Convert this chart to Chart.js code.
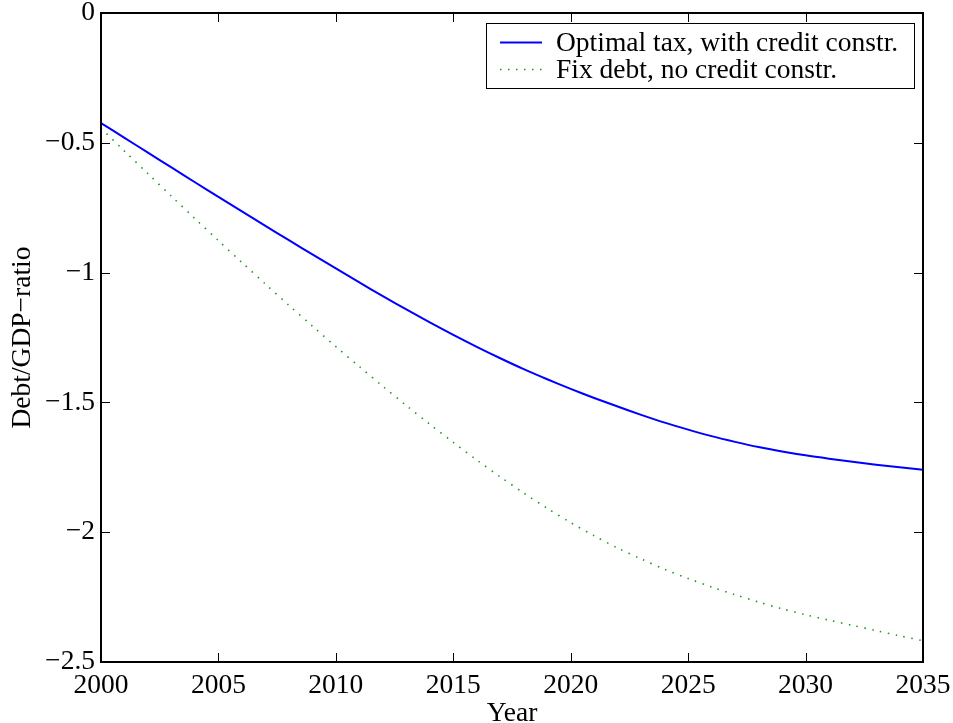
<!DOCTYPE html>
<html>
<head>
<meta charset="utf-8">
<script src="https://cdn.jsdelivr.net/npm/chart.js@4.4.1/dist/chart.umd.min.js"></script>
<style>
  html, body { margin: 0; padding: 0; background: #fff; }
  #wrap { width: 953px; height: 723px; }
</style>
</head>
<body>
<div id="wrap"><canvas id="c" width="953" height="723"></canvas></div>
<script>
// Simulation horizon (years)
const years = [2000, 2001, 2002, 2003, 2004, 2005, 2006, 2007, 2008, 2009,
               2010, 2011, 2012, 2013, 2014, 2015, 2016, 2017, 2018, 2019,
               2020, 2021, 2022, 2023, 2024, 2025, 2026, 2027, 2028, 2029,
               2030, 2031, 2032, 2033, 2034, 2035];

// Debt/GDP path under the optimal tax with credit constraints
const optimalTax = [-0.424, -0.481, -0.538, -0.595, -0.652, -0.708, -0.764, -0.820, -0.875, -0.930,
                    -0.984, -1.038, -1.091, -1.142, -1.192, -1.240, -1.286, -1.330, -1.372, -1.411,
                    -1.448, -1.483, -1.516, -1.548, -1.578, -1.605, -1.630, -1.652, -1.672, -1.689,
                    -1.704, -1.717, -1.729, -1.740, -1.750, -1.759];

// Debt/GDP path with fixed debt and no credit constraints
const fixDebt = [-0.444, -0.532, -0.619, -0.706, -0.792, -0.877, -0.961, -1.044, -1.126, -1.206,
                 -1.285, -1.362, -1.438, -1.512, -1.584, -1.654, -1.722, -1.787, -1.849, -1.908,
                 -1.963, -2.014, -2.061, -2.103, -2.143, -2.178, -2.211, -2.241, -2.269, -2.295,
                 -2.318, -2.339, -2.359, -2.379, -2.399, -2.418];

const seriesLabels = ['Optimal tax, with credit constr.', 'Fix debt, no credit constr.'];
const xTicks = [2000, 2005, 2010, 2015, 2020, 2025, 2030, 2035];
const yTicks = [0, -0.5, -1, -1.5, -2, -2.5];

const FONT = '"Liberation Serif", "Times New Roman", serif';
const FSIZE = 27.5;

// Minus sign as typeset (U+2212)
const fmt = v => (v < 0 ? '\u2212' + String(Math.abs(v)) : String(v));

// Closed frame with inward tick marks on all four sides
const frameTicks = {
  id: 'frameTicks',
  afterDatasetsDraw(chart) {
    const { ctx, chartArea: a, scales: { x, y } } = chart;
    const tl = 9;
    ctx.save();
    ctx.strokeStyle = '#000';
    ctx.lineWidth = 1;
    ctx.beginPath();
    xTicks.forEach(v => {
      const px = Math.round(x.getPixelForValue(v)) + 0.5;
      ctx.moveTo(px, a.bottom); ctx.lineTo(px, a.bottom - tl);
      ctx.moveTo(px, a.top); ctx.lineTo(px, a.top + tl);
    });
    yTicks.forEach(v => {
      const py = Math.round(y.getPixelForValue(v)) + 0.5;
      ctx.moveTo(a.left, py); ctx.lineTo(a.left + tl, py);
      ctx.moveTo(a.right, py); ctx.lineTo(a.right - tl, py);
    });
    ctx.stroke();
    ctx.lineWidth = 2;
    ctx.strokeRect(a.left, a.top, a.right - a.left, a.bottom - a.top);
    ctx.restore();
  }
};

// Boxed legend in the upper right corner
const boxLegend = {
  id: 'boxLegend',
  afterDraw(chart) {
    const { ctx, chartArea: a } = chart;
    const right = a.right - 9, top = a.top + 10;
    const w = 428, h = 65;
    const left = right - w;
    ctx.save();
    ctx.fillStyle = '#fff';
    ctx.fillRect(left, top, w, h);
    ctx.strokeStyle = '#000';
    ctx.lineWidth = 1;
    ctx.strokeRect(left + 0.5, top + 0.5, w, h);
    ctx.font = FSIZE + 'px ' + FONT;
    ctx.textBaseline = 'alphabetic';
    ctx.fillStyle = '#000';
    chart.data.datasets.forEach((ds, i) => {
      const cy = top + 19 + i * 27;
      ctx.beginPath();
      ctx.strokeStyle = ds.borderColor;
      ctx.lineWidth = ds.borderWidth;
      ctx.setLineDash(ds.borderDash || []);
      ctx.moveTo(left + 14, cy + 0.5);
      ctx.lineTo(left + 56, cy + 0.5);
      ctx.stroke();
      ctx.setLineDash([]);
      ctx.fillText(ds.label, left + 70, cy + 9);
    });
    ctx.restore();
  }
};

new Chart(document.getElementById('c'), {
  type: 'line',
  data: {
    datasets: [
      {
        label: seriesLabels[0],
        data: years.map((yr, i) => ({ x: yr, y: optimalTax[i] })),
        borderColor: '#0000ff',
        borderWidth: 2,
        pointRadius: 0,
        tension: 0.3,
        fill: false
      },
      {
        label: seriesLabels[1],
        data: years.map((yr, i) => ({ x: yr, y: fixDebt[i] })),
        borderColor: '#1a9a1a',
        borderWidth: 1.6,
        borderDash: [1.5, 6.5],
        pointRadius: 0,
        tension: 0.3,
        fill: false
      }
    ]
  },
  options: {
    responsive: false,
    animation: false,
    events: [],
    layout: { padding: { top: 13, right: 30, left: 0, bottom: 0 } },
    plugins: {
      legend: { display: false },
      tooltip: { enabled: false }
    },
    scales: {
      x: {
        type: 'linear',
        min: 2000, max: 2035,
        afterBuildTicks: s => { s.ticks = xTicks.map(v => ({ value: v })); },
        afterFit: s => { s.height = 61; s.paddingLeft = 0; s.paddingRight = 0; },
        grid: { display: false, drawTicks: false },
        border: { display: false },
        ticks: {
          color: '#000',
          font: { family: FONT, size: FSIZE },
          padding: 7,
          maxRotation: 0,
          autoSkip: false,
          callback: v => String(v)
        },
        title: {
          display: true,
          text: 'Year',
          color: '#000',
          font: { family: FONT, size: FSIZE, lineHeight: 0.7 },
          padding: 0
        }
      },
      y: {
        type: 'linear',
        min: -2.5, max: 0,
        afterBuildTicks: s => { s.ticks = yTicks.map(v => ({ value: v })); },
        afterFit: s => { s.width = 101; s.paddingTop = 0; s.paddingBottom = 0; },
        grid: { display: false, drawTicks: false },
        border: { display: false },
        ticks: {
          color: '#000',
          font: { family: FONT, size: FSIZE },
          padding: 6,
          autoSkip: false,
          callback: v => fmt(v)
        },
        title: {
          display: true,
          text: 'Debt/GDP\u2212ratio',
          color: '#000',
          font: { family: FONT, size: FSIZE, lineHeight: 1 },
          padding: { top: 9, bottom: 0 }
        }
      }
    }
  },
  plugins: [frameTicks, boxLegend]
});
</script>
</body>
</html>
